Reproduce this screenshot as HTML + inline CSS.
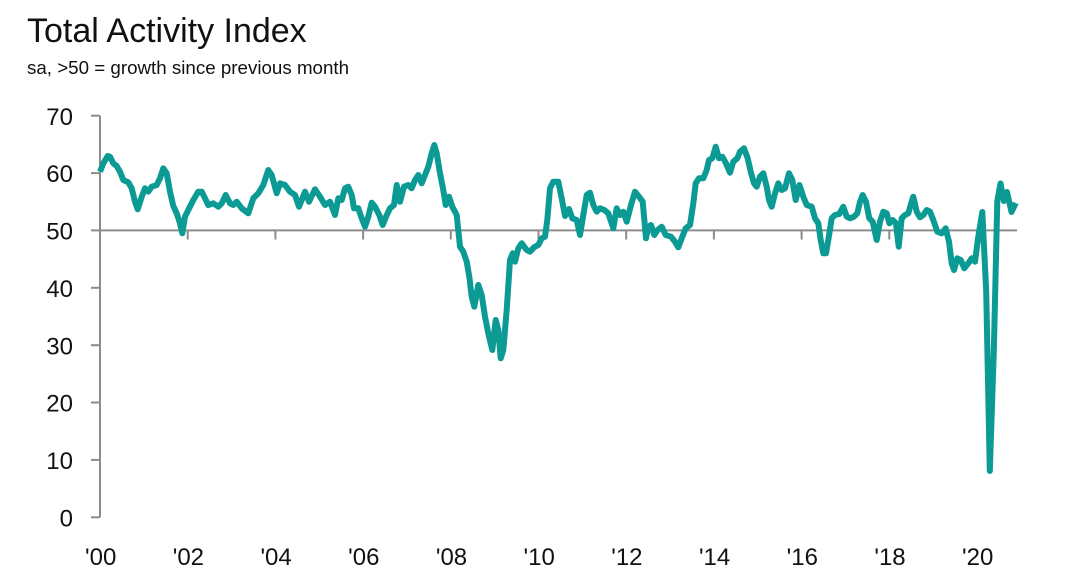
<!DOCTYPE html>
<html>
<head>
<meta charset="utf-8">
<style>
  html,body{margin:0;padding:0;background:#fff;}
  body{width:1068px;height:580px;overflow:hidden;}
  svg{display:block;}
  text{font-family:"Liberation Sans",sans-serif;fill:#111;}
</style>
</head>
<body>
<svg width="1068" height="580" viewBox="0 0 1068 580" xmlns="http://www.w3.org/2000/svg">
  <rect x="0" y="0" width="1068" height="580" fill="#fff"/>
  <text x="27" y="42" font-size="34">Total Activity Index</text>
  <text x="27" y="74" font-size="18.75">sa, &gt;50 = growth since previous month</text>

  <!-- y axis -->
  <g stroke="#8c8c8c" stroke-width="2" fill="none">
    <line x1="100" y1="115.7" x2="100" y2="517.3"/>
    <line x1="91" y1="115.7" x2="100" y2="115.7"/>
    <line x1="91" y1="173.1" x2="100" y2="173.1"/>
    <line x1="91" y1="230.4" x2="100" y2="230.4"/>
    <line x1="91" y1="287.8" x2="100" y2="287.8"/>
    <line x1="91" y1="345.2" x2="100" y2="345.2"/>
    <line x1="91" y1="402.5" x2="100" y2="402.5"/>
    <line x1="91" y1="459.9" x2="100" y2="459.9"/>
    <line x1="91" y1="517.3" x2="100" y2="517.3"/>
    <!-- 50 line -->
    <line x1="100" y1="230.4" x2="1017" y2="230.4"/>
    <!-- x ticks -->
    <line x1="187.7" y1="230.4" x2="187.7" y2="239.5"/>
    <line x1="275.4" y1="230.4" x2="275.4" y2="239.5"/>
    <line x1="363.1" y1="230.4" x2="363.1" y2="239.5"/>
    <line x1="450.8" y1="230.4" x2="450.8" y2="239.5"/>
    <line x1="538.5" y1="230.4" x2="538.5" y2="239.5"/>
    <line x1="626.2" y1="230.4" x2="626.2" y2="239.5"/>
    <line x1="713.9" y1="230.4" x2="713.9" y2="239.5"/>
    <line x1="801.6" y1="230.4" x2="801.6" y2="239.5"/>
    <line x1="889.3" y1="230.4" x2="889.3" y2="239.5"/>
    <line x1="977" y1="230.4" x2="977" y2="239.5"/>
  </g>

  <g font-size="24" text-anchor="end">
    <text x="73" y="125">70</text>
    <text x="73" y="182.2">60</text>
    <text x="73" y="239.5">50</text>
    <text x="73" y="296.9">40</text>
    <text x="73" y="354.3">30</text>
    <text x="73" y="411.6">20</text>
    <text x="73" y="469">10</text>
    <text x="73" y="526.4">0</text>
  </g>

  <g font-size="24" text-anchor="middle">
    <text x="100.7" y="565">'00</text>
    <text x="188.4" y="565">'02</text>
    <text x="276.1" y="565">'04</text>
    <text x="363.8" y="565">'06</text>
    <text x="451.5" y="565">'08</text>
    <text x="539.2" y="565">'10</text>
    <text x="626.9" y="565">'12</text>
    <text x="714.6" y="565">'14</text>
    <text x="802.3" y="565">'16</text>
    <text x="890" y="565">'18</text>
    <text x="977.7" y="565">'20</text>
  </g>

  <polyline fill="none" stroke="#0c9a95" stroke-width="6" stroke-linejoin="round" stroke-linecap="butt"
    points="100,171.7 103.3,163.3 107.7,156 110,156.7 113.3,163.3 116.7,166 120,171.7 123.3,180 128.3,182.3 131.7,188.3 135,201.7 137.7,209.3 141.7,196.7 145,188.3 148.3,191.7 151.7,186.7 156.7,185 160,178.3 163.3,168.3 166.7,173.3 170,191.7 173.3,206 176.7,213.3 180,223.3 182.3,233.3 185,216.7 188.3,210 193.3,200 198.3,191.7 201.7,191.7 205,198.3 208.3,205 213.3,203.3 218.3,206.7 221.7,203.3 225.7,195 230,203.3 233.3,205 236.7,201.7 241.7,208.3 248.3,213.3 253.3,198.3 258.3,193.3 263.3,185 268.3,170 271.7,175 276.7,193.3 280,183.3 285,185 290,191.7 295,195 299,206.7 305,191.7 309,201.7 315,189.3 320,196.7 325,205 330,201.7 335,215 338.3,198.3 341.7,200 345,188.3 348.3,186.7 351.7,195 354,208.3 358.3,208.3 361.7,218.3 365,226.7 368.3,216.7 371.7,202.7 375,206.7 379.3,215 382.7,225 386,216.7 390,208.3 394,205 396.7,185 400,201.7 404,186.7 408.3,185 411.7,188.3 415,180 418.3,175 421.7,183.3 425,175 428.3,166.7 431.7,153.3 434.3,145 436.7,153.3 440,173.3 443.3,190 445.7,205 449,196.7 452.3,206.7 456.7,215 460,246.7 463.3,251.7 466.7,261.7 469.3,276.7 471.7,296.7 474.3,306.7 478.3,285 481.7,295 485,316.7 488.3,333.3 492.3,350 495.7,320 498.3,330 500.7,358.3 503.3,350 506.7,310 510,260 512.7,253.3 515,261.7 518.3,248.3 521.7,243.3 526.7,250 530,251.7 534,247.3 538.3,245 541.7,238.3 545,236.7 547.3,220 550,188.3 553.3,181.7 558.3,181.7 561.7,198.3 565,216 569,209 572.3,218.3 576.7,220 580,235 583.3,215 586.7,195 590,192.7 593.3,205 596.7,211.7 600,208.3 604.3,210 608.3,213.3 613.3,228.3 616.7,208.3 620,215 623.3,211.7 626.7,221.7 631,205 635,191.7 639,196.7 642.7,201.7 646,238.3 648.3,226.7 651,225 654.3,235 657.7,230 661.7,226.7 665.7,235 671,236.7 675,241.7 678.3,247.3 682.3,236.7 685.7,228.3 690,225 693.3,203.3 695.7,183.3 699,178.3 703.3,178.3 706.7,170 709,160 712.3,158.3 715.7,146.7 719,158.3 722.3,156.7 726,163.3 730,172.7 733.3,161.7 737.3,158.3 740,151.7 744,148.3 747.7,158.3 750.7,171.7 754,183.3 756.7,186.7 760,176.7 763.3,173.3 766.7,186.7 769,200 771.7,206.7 775,193.3 778.3,183.3 781.7,190 785,188.3 789,173.3 792.3,180 795.7,200 799.5,185 803.3,196.7 806.7,205 811.7,206.7 815,218.3 818.3,223.3 820.7,240 823.3,253.3 826,253.3 828.3,240 831.7,218.3 835,215 839.3,214 843.3,206.7 846.7,216.7 850,218.3 854,216.7 857.3,213.3 860,201.7 862.7,195 866,201.7 869.3,218.3 872.7,221.7 876.7,240 880,221.7 883.3,211.7 886.7,213.3 889.3,223.3 892.7,220 896,223.3 898.7,246.7 901.7,218.3 905,215 908.3,213.3 910.7,205 913.3,196.7 916.7,211.7 920,217.3 923.3,215 926.7,210 930,211.7 933.3,220 937.3,231.7 941.7,233.3 945.7,228.3 949,241.7 951.7,263.3 954,270 957.3,258.3 960.7,260 964.3,268.3 968.3,263.3 971.7,258.3 975,261.7 978.3,236.7 982.3,212 986.2,291 989.8,471 993.8,352 997.3,201 1000.5,183.5 1003.8,201 1007,192 1011.5,212 1015.8,203"/>
</svg>
</body>
</html>
